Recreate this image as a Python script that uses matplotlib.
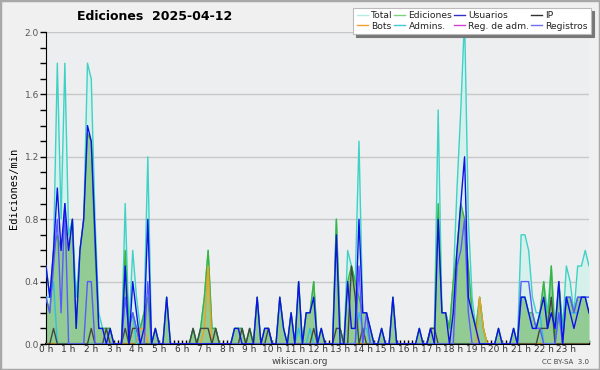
import matplotlib
matplotlib.use("Agg")
import matplotlib.pyplot as plt
from matplotlib.lines import Line2D
from matplotlib.ticker import MultipleLocator, FixedLocator
import numpy as np

# 10-minute bins, 0h .. 24h
hours = [i / 6 for i in range(145)]
hour_labels = [f"{h} h" for h in range(24)]

total = [0.5,0.3,0.6,1.8,0.8,1.8,0.7,0.8,0.3,0.6,0.8,1.8,1.7,0.8,0.2,0.1,0.1,0.1,0.0,0.0,0.0,0.9,0.1,0.6,
         0.3,0.1,0.2,1.2,0.0,0.1,0.0,0.0,0.3,0.0,0.0,0.0,0.0,0.0,0.0,0.1,0.0,0.1,0.3,0.6,0.1,0.1,0.0,0.0,
         0.0,0.0,0.1,0.1,0.1,0.0,0.1,0.0,0.3,0.0,0.1,0.1,0.0,0.0,0.3,0.1,0.0,0.2,0.0,0.4,0.0,0.2,0.2,0.4,
         0.0,0.1,0.0,0.0,0.0,0.8,0.1,0.0,0.6,0.5,0.4,1.3,0.2,0.2,0.1,0.0,0.0,0.1,0.0,0.0,0.3,0.0,0.0,0.0,
         0.0,0.0,0.0,0.1,0.0,0.0,0.1,0.1,1.5,0.2,0.2,0.1,0.4,1.0,1.5,2.1,0.8,0.3,0.1,0.3,0.1,0.0,0.0,0.0,
         0.1,0.0,0.0,0.0,0.1,0.0,0.7,0.7,0.6,0.3,0.2,0.2,0.4,0.2,0.5,0.1,0.4,0.1,0.5,0.4,0.2,0.5,0.5,0.6,0.5]

ediciones = [0.3,0.2,0.6,0.7,0.6,0.8,0.6,0.8,0.1,0.6,0.8,1.35,1.3,0.6,0.1,0.1,0.1,0.1,0.0,0.0,0.0,0.6,0.1,0.2,
             0.1,0.1,0.2,0.3,0.0,0.1,0.0,0.0,0.3,0.0,0.0,0.0,0.0,0.0,0.0,0.1,0.0,0.1,0.3,0.6,0.1,0.1,0.0,0.0,
             0.0,0.0,0.1,0.1,0.1,0.0,0.1,0.0,0.3,0.0,0.1,0.1,0.0,0.0,0.3,0.1,0.0,0.2,0.0,0.4,0.0,0.2,0.2,0.4,
             0.0,0.1,0.0,0.0,0.0,0.8,0.1,0.0,0.4,0.5,0.4,0.3,0.2,0.2,0.1,0.0,0.0,0.1,0.0,0.0,0.3,0.0,0.0,0.0,
             0.0,0.0,0.0,0.1,0.0,0.0,0.1,0.1,0.9,0.2,0.2,0.1,0.4,0.6,0.9,0.8,0.5,0.2,0.1,0.3,0.1,0.0,0.0,0.0,
             0.1,0.0,0.0,0.0,0.1,0.0,0.3,0.3,0.2,0.2,0.1,0.2,0.4,0.1,0.5,0.0,0.4,0.1,0.3,0.3,0.2,0.3,0.3,0.3,0.2]

usuarios = [0.5,0.3,0.6,1.0,0.6,0.9,0.6,0.8,0.1,0.6,0.8,1.4,1.3,0.7,0.1,0.1,0.0,0.1,0.0,0.0,0.0,0.5,0.0,0.4,
            0.2,0.0,0.1,0.8,0.0,0.1,0.0,0.0,0.3,0.0,0.0,0.0,0.0,0.0,0.0,0.0,0.0,0.0,0.0,0.0,0.0,0.0,0.0,0.0,
            0.0,0.0,0.1,0.1,0.0,0.0,0.0,0.0,0.3,0.0,0.1,0.1,0.0,0.0,0.3,0.1,0.0,0.2,0.0,0.4,0.0,0.2,0.2,0.3,
            0.0,0.1,0.0,0.0,0.0,0.7,0.0,0.0,0.4,0.1,0.1,0.8,0.2,0.2,0.1,0.0,0.0,0.1,0.0,0.0,0.3,0.0,0.0,0.0,
            0.0,0.0,0.0,0.1,0.0,0.0,0.1,0.0,0.8,0.2,0.2,0.0,0.2,0.6,0.9,1.2,0.3,0.2,0.1,0.0,0.0,0.0,0.0,0.0,
            0.1,0.0,0.0,0.0,0.1,0.0,0.3,0.3,0.2,0.1,0.1,0.2,0.3,0.1,0.2,0.1,0.4,0.0,0.3,0.2,0.1,0.2,0.3,0.3,0.2]

ip = [0.0,0.0,0.1,0.0,0.0,0.0,0.0,0.0,0.0,0.0,0.0,0.0,0.1,0.0,0.0,0.0,0.1,0.0,0.0,0.0,0.0,0.1,0.0,0.1,
      0.1,0.0,0.0,0.0,0.0,0.0,0.0,0.0,0.0,0.0,0.0,0.0,0.0,0.0,0.0,0.1,0.0,0.1,0.1,0.1,0.0,0.1,0.0,0.0,
      0.0,0.0,0.0,0.0,0.1,0.0,0.1,0.0,0.0,0.0,0.0,0.1,0.0,0.0,0.0,0.0,0.0,0.0,0.0,0.0,0.0,0.0,0.0,0.1,
      0.0,0.0,0.0,0.0,0.0,0.1,0.1,0.0,0.0,0.5,0.3,0.0,0.1,0.0,0.0,0.0,0.0,0.0,0.0,0.0,0.0,0.0,0.0,0.0,
      0.0,0.0,0.0,0.0,0.0,0.0,0.1,0.1,0.0,0.0,0.0,0.0,0.0,0.0,0.0,0.0,0.0,0.0,0.0,0.0,0.0,0.0,0.0,0.0,
      0.0,0.0,0.0,0.0,0.0,0.0,0.0,0.0,0.0,0.0,0.0,0.1,0.1,0.1,0.3,0.0,0.0,0.0,0.0,0.0,0.0,0.0,0.0,0.0,0.0]

registros = [0.3,0.2,0.5,0.8,0.2,0.9,0.0,0.0,0.0,0.0,0.0,0.4,0.4,0.0,0.0,0.0,0.0,0.0,0.0,0.0,0.0,0.3,0.1,0.2,
             0.1,0.0,0.0,0.4,0.0,0.0,0.0,0.0,0.0,0.0,0.0,0.0,0.0,0.0,0.0,0.0,0.0,0.0,0.0,0.0,0.0,0.0,0.0,0.0,
             0.0,0.0,0.0,0.0,0.0,0.0,0.0,0.0,0.0,0.0,0.0,0.0,0.0,0.0,0.0,0.0,0.0,0.0,0.0,0.0,0.0,0.0,0.0,0.0,
             0.0,0.0,0.0,0.0,0.0,0.0,0.0,0.0,0.0,0.0,0.0,0.5,0.0,0.2,0.0,0.0,0.0,0.0,0.0,0.0,0.0,0.0,0.0,0.0,
             0.0,0.0,0.0,0.0,0.0,0.0,0.0,0.0,0.0,0.0,0.0,0.0,0.0,0.5,0.6,0.8,0.2,0.0,0.0,0.0,0.0,0.0,0.0,0.0,
             0.0,0.0,0.0,0.0,0.0,0.0,0.4,0.4,0.4,0.2,0.1,0.1,0.0,0.0,0.0,0.0,0.2,0.0,0.3,0.3,0.2,0.3,0.3,0.3,0.3]

bots = [0.0]*25 + [0.1,0.1] + [0.0]*15 + [0.1,0.5] + [0.0]*71 + [0.3,0.1] + [0.0]*28
admins = [0.3,0.3,0.4,0.0,0.0,0.0,0.0,0.0,0.0,0.0,0.0,0.0,0.0,0.0,0.0,0.0,0.0,0.0,0.0,0.0,0.0,0.3,0.1,0.2,
          0.0,0.0,0.0,0.0,0.0,0.0,0.0,0.0,0.0,0.0,0.0,0.0,0.0,0.0,0.0,0.0,0.0,0.0,0.0,0.0,0.0,0.0,0.0,0.0,
          0.0,0.0,0.0,0.0,0.0,0.0,0.0,0.0,0.0,0.0,0.0,0.0,0.0,0.0,0.0,0.0,0.0,0.0,0.0,0.1,0.0,0.0,0.1,0.0,
          0.0,0.0,0.0,0.0,0.0,0.0,0.0,0.0,0.0,0.0,0.0,0.2,0.1,0.1,0.0,0.0,0.0,0.0,0.0,0.0,0.0,0.0,0.0,0.0,
          0.0,0.0,0.0,0.0,0.0,0.0,0.0,0.0,0.0,0.0,0.0,0.0,0.0,0.0,0.0,0.0,0.0,0.0,0.0,0.0,0.0,0.0,0.0,0.0,
          0.0,0.0,0.0,0.0,0.0,0.0,0.3,0.3,0.2,0.1,0.1,0.2,0.0,0.0,0.0,0.0,0.2,0.1,0.3,0.2,0.2,0.2,0.3,0.3,0.3]

legend_labels = ["Total", "Bots", "Ediciones", "Admins.", "Usuarios", "Reg. de adm.", "IP", "Registros"]
legend_colors = ["#b4ebe4", "#f0a030", "#7fd07f", "#40c8d8", "#3030c8", "#d040d0", "#303030", "#7070f0"]

fig = plt.figure(figsize=(6.0, 3.7), dpi=100, facecolor="#f0f0f0")
ax = fig.add_axes([46/600, 26/370, 543/600, 312/370])
ax.set_facecolor("#edeef0")

x = np.array(hours)
ax.fill_between(x, total, 0, color="#d6f1ec", lw=0, zorder=1)
ax.fill_between(x, ediciones, 0, color="#8fc98f", alpha=0.95, lw=0, zorder=2)
ax.plot(x, total, color="#3ed2c6", lw=1.0, zorder=3)
ax.plot(x, ediciones, color="#3cb43c", lw=1.0, zorder=4)
ax.plot(x, bots, color="#f0a020", lw=1.0, zorder=5)
ax.plot(x, admins, color="#30c0e0", lw=1.0, zorder=5)
ax.plot(x, ip, color="#404a40", lw=1.0, zorder=6)
ax.plot(x, registros, color="#5a5aff", lw=1.0, zorder=7)
ax.plot(x, usuarios, color="#1010e8", lw=1.0, zorder=8)

ax.set_xlim(0, 24)
ax.set_ylim(0, 2.0)
ax.yaxis.set_minor_locator(MultipleLocator(0.1))
ax.set_yticks(np.arange(0, 2.01, 0.4))
ax.set_yticklabels([f"{v:.1f}" for v in np.arange(0, 2.01, 0.4)])
ax.xaxis.set_major_locator(FixedLocator(list(range(24))))
ax.set_xticklabels(hour_labels)
ax.xaxis.set_minor_locator(MultipleLocator(1/6))
ax.grid(axis="y", which="major", color="#c8c8c8", lw=1.0, zorder=0)
ax.set_axisbelow(True)
for s in ["top", "right"]:
    ax.spines[s].set_visible(False)
ax.spines["left"].set_color("black")
ax.spines["bottom"].set_color("black")
ax.spines["bottom"].set_linewidth(1.5)
ax.tick_params(axis="y", which="major", length=4, width=1, labelsize=6.5, labelcolor="#555555", pad=1)
ax.tick_params(axis="y", which="minor", length=4, width=1)
ax.tick_params(axis="x", which="both", direction="in", length=3, width=1, labelsize=6.5, labelcolor="#333333", pad=1)
ax.set_ylabel("Ediciones/min", fontsize=7.5, family="DejaVu Sans Mono", labelpad=4)

fig.text(155/600, 1 - 17/370, "Ediciones  2025-04-12", fontsize=9, fontweight="bold", ha="center", va="center")
fig.text(300/600, 1 - 361/370, "wikiscan.org", fontsize=6.5, color="#444444", ha="center", va="center")
fig.text(589/600, 1 - 362/370, "CC BY-SA  3.0", fontsize=5, color="#444444", ha="right", va="center")

handles = [Line2D([0], [0], color=c, lw=1.0) for c in legend_colors]
leg = fig.legend(handles, legend_labels, ncol=4, loc="upper right",
                 bbox_to_anchor=(591/600, 1 - 8/370), fontsize=6.6, frameon=True,
                 fancybox=False, shadow={"color": "#777777", "alpha": 1.0}, handlelength=1.2,
                 handletextpad=0.35, columnspacing=0.2, labelspacing=0.15, borderpad=0.35,
                 borderaxespad=0)
leg.get_frame().set_edgecolor("#bbbbbb")
leg.get_frame().set_linewidth(0.8)
for t in leg.get_texts():
    t.set_color("#222222")

fig.patches.append(plt.Rectangle((0, 0), 1, 1, transform=fig.transFigure, fill=False,
                                 edgecolor="#a8a8a8", lw=2.5))
fig.savefig("out.png", dpi=100, facecolor=fig.get_facecolor())
